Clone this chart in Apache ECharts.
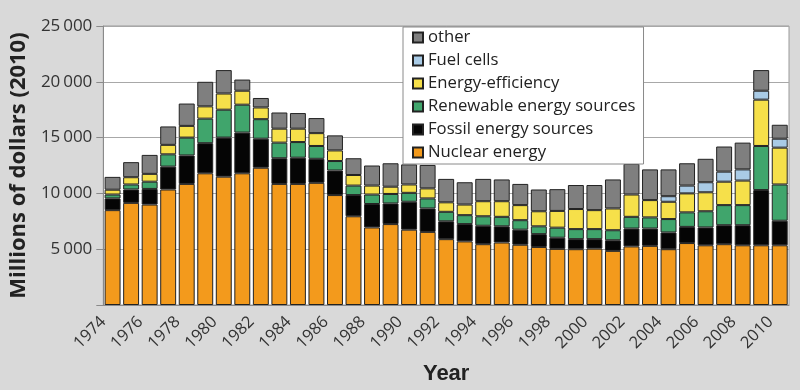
<!DOCTYPE html>
<html>
<head>
<meta charset="utf-8">
<script src="https://cdn.jsdelivr.net/npm/echarts@6/dist/echarts.min.js"></script>
<style>
html,body{margin:0;padding:0;background:#d9d9d9;}
#c{width:800px;height:390px;}
</style>
</head>
<body>
<div id="c"></div>
<script>
var years = ['1974','1975','1976','1977','1978','1979','1980','1981','1982','1983',
             '1984','1985','1986','1987','1988','1989','1990','1991','1992','1993',
             '1994','1995','1996','1997','1998','1999','2000','2001','2002','2003',
             '2004','2005','2006','2007','2008','2009','2010'];

var nuclear = [8500, 9150, 9000, 10350, 10850, 11800, 11500, 11800, 12300, 10850,
               10850, 10950, 9850, 7950, 6950, 7250, 6750, 6550, 5900, 5700,
               5450, 5600, 5400, 5200, 5030, 5000, 5050, 4850, 5250, 5300,
               5000, 5550, 5350, 5450, 5350, 5350, 5350];
var fossil = [1050, 1200, 1400, 2050, 2550, 2700, 3500, 3650, 2600, 2300,
              2350, 2150, 2200, 1900, 2100, 1850, 2500, 2100, 1600, 1550,
              1650, 1450, 1350, 1150, 1000, 900, 850, 950, 1600, 1550,
              1500, 1450, 1600, 1700, 1800, 4950, 2200];
var renewable = [350, 450, 650, 1100, 1600, 2200, 2500, 2500, 1750, 1400,
                 1400, 1150, 850, 850, 850, 850, 800, 900, 850, 800,
                 850, 850, 850, 700, 900, 900, 900, 900, 1050, 1000,
                 1200, 1300, 1450, 1800, 1800, 3950, 3250];
var efficiency = [430, 650, 700, 850, 1050, 1100, 1450, 1250, 1050, 1250,
                  1200, 1150, 950, 950, 800, 650, 750, 900, 850, 950,
                  1350, 1400, 1350, 1350, 1500, 1800, 1700, 1950, 2000, 1550,
                  1550, 1700, 1700, 2100, 2200, 4150, 3300];
var fuelCells = [0, 0, 0, 0, 0, 0, 0, 0, 0, 0,
                 0, 0, 0, 0, 0, 0, 0, 0, 0, 0,
                 0, 0, 0, 0, 0, 0, 0, 0, 0, 0,
                 500, 700, 900, 900, 1000, 800, 800];
var other = [1150, 1350, 1700, 1650, 2000, 2200, 2100, 1000, 850, 1450,
             1400, 1350, 1350, 1500, 1800, 2100, 1800, 2100, 2100, 2000,
             2000, 1950, 1900, 1950, 1950, 2150, 2250, 2600, 2750, 2750,
             2400, 2000, 2100, 2250, 2400, 1850, 1250];

var seriesNames = ['Nuclear energy', 'Fossil energy sources', 'Renewable energy sources',
                   'Energy-efficiency', 'Fuel cells', 'other'];
var seriesData = [nuclear, fossil, renewable, efficiency, fuelCells, other];
var seriesColors = ['#f39a1c', '#050505', '#40a56c', '#f6e04a', '#a9cbe6', '#7f7f7f'];
var yTicks = [0, 5000, 10000, 15000, 20000, 25000];

var FONT = '"Open Sans", "Noto Sans", sans-serif';

var chart = echarts.init(document.getElementById('c'), null, {renderer: 'canvas'});

var series = seriesNames.map(function (name, i) {
  return {
    name: name,
    type: 'bar',
    stack: 'total',
    barCategoryGap: '14%',
    itemStyle: { color: seriesColors[i], borderColor: '#222', borderWidth: 1 },
    emphasis: { disabled: true },
    data: seriesData[i].map(function (v) { return v === 0 ? '-' : v; })
  };
});

chart.setOption({
  animation: false,
  backgroundColor: '#d9d9d9',
  textStyle: { fontFamily: FONT },
  grid: {
    left: 95, right: 11, top: 26, bottom: 75,
    show: true, backgroundColor: '#ffffff', borderColor: '#9a9a9a', borderWidth: 1
  },
  legend: {
    orient: 'vertical',
    left: 403, top: 27,
    data: seriesNames.slice().reverse(),
    itemWidth: 10, itemHeight: 10, itemGap: 6,
    padding: [2, 8, 3, 9],
    backgroundColor: '#ffffff', borderColor: '#8a8a8a', borderWidth: 1,
    icon: 'rect',
    textStyle: { fontFamily: FONT, fontSize: 16.7, lineHeight: 16, color: '#222' }
  },
  xAxis: {
    type: 'category',
    data: years,
    name: 'Year',
    nameLocation: 'middle',
    nameGap: 58,
    nameTextStyle: { fontFamily: '"Liberation Sans Narrow", "Liberation Sans", sans-serif', fontWeight: 'bold', fontSize: 22, color: '#222' },
    axisLine: { lineStyle: { color: '#8a8a8a' } },
    axisTick: { interval: 0, length: 4, lineStyle: { color: '#8a8a8a' } },
    axisLabel: { interval: 1, rotate: 45, fontSize: 16.5, color: '#333', margin: 5, padding: [0, 13, 0, 0], fontFamily: FONT }
  },
  yAxis: {
    type: 'value',
    min: yTicks[0], max: yTicks[yTicks.length - 1], interval: 5000,
    name: 'Millions of dollars (2010)',
    nameLocation: 'middle',
    nameGap: 66,
    nameTextStyle: { fontFamily: FONT, fontWeight: 'bold', fontSize: 22, color: '#222' },
    axisLine: { show: true, lineStyle: { color: '#8a8a8a' } },
    axisTick: { show: true, length: 7, lineStyle: { color: '#8a8a8a' } },
    splitLine: { lineStyle: { color: '#a8a8a8' } },
    axisLabel: {
      fontSize: 17, color: '#333', margin: 11, fontFamily: FONT,
      formatter: function (v) {
        if (v === 0) return '';
        return String(v).replace(/\B(?=(\d{3})+(?!\d))/g, '\u2009');
      }
    }
  },
  series: series
});
</script>
</body>
</html>
